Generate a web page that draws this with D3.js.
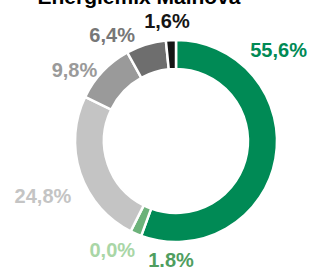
<!DOCTYPE html>
<html>
<head>
<meta charset="utf-8">
<script src="https://cdn.jsdelivr.net/npm/d3@7"></script>
<style>
  html, body { margin: 0; padding: 0; background: #fff; }
  svg { display: block; font-family: "Liberation Sans", Arial, sans-serif; }
</style>
</head>
<body>
<svg id="chart" width="309" height="270"></svg>
<script>
const title = "Energiemix Mainova";
const categories = ["Erneuerbar", "Erneuerbar (EEG)", "Sonstige erneuerbar", "Erdgas", "Kohle", "Kernkraft", "Sonstige fossil"];
const shares = [55.6, 1.8, 0.0, 24.8, 9.8, 6.4, 1.6];
const labels = ["55,6%", "1.8%", "0,0%", "24,8%", "9,8%", "6,4%", "1,6%"];

// layout
const width = 309, height = 270;
const cx = 176, cy = 141;
const outerR = 101, innerR = 72;

const colors = d3.scaleOrdinal()
    .domain(categories)
    .range(["#008a55", "#6cb27a", "#a9d6a6", "#c4c4c4", "#9a9a9a", "#6e6e6e", "#151515"]);
const textColors = d3.scaleOrdinal()
    .domain(categories)
    .range(["#008a55", "#4f9e5f", "#a9d6a6", "#c4c4c4", "#9a9a9a", "#777777", "#151515"]);

// label placement around the ring: angle (deg, clockwise from top) and distance from centre
const labelPolar = [[48.5, 137], [182.4, 119], [210.4, 126], [247.5, 144], [305, 124], [329, 124], [355.7, 121]];

const svg = d3.select("#chart");

svg.append("text")
    .attr("x", 139)
    .attr("y", 4)
    .attr("text-anchor", "middle")
    .attr("font-size", 21)
    .attr("font-weight", "bold")
    .attr("fill", "#000")
    .text(title);

const pie = d3.pie().sort(null).value(d => d.value);
const arc = d3.arc().innerRadius(innerR).outerRadius(outerR);

const data = categories.map((c, i) => ({ cat: c, value: shares[i], label: labels[i] }));
const arcs = pie(data);

const g = svg.append("g").attr("transform", `translate(${cx},${cy})`);

g.selectAll("path")
    .data(arcs.filter(d => d.data.value > 0))
    .join("path")
    .attr("d", arc)
    .attr("fill", d => colors(d.data.cat))
    .attr("stroke", "#fff")
    .attr("stroke-width", 2.5);

g.selectAll("text")
    .data(arcs)
    .join("text")
    .attr("x", (d, i) => Math.sin(labelPolar[i][0] * Math.PI / 180) * labelPolar[i][1])
    .attr("y", (d, i) => -Math.cos(labelPolar[i][0] * Math.PI / 180) * labelPolar[i][1])
    .attr("dy", "0.36em")
    .attr("text-anchor", "middle")
    .attr("font-size", 20)
    .attr("font-weight", "bold")
    .attr("fill", d => textColors(d.data.cat))
    .text(d => d.data.label);
</script>
</body>
</html>
